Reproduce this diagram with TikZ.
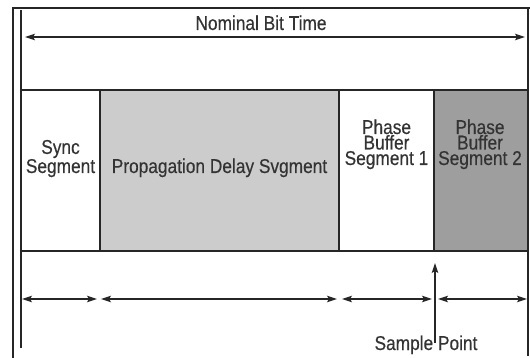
\documentclass[tikz,border=0pt]{standalone}
\usepackage{fontspec}
\setmainfont{Liberation Sans}[FakeStretch=0.865,FakeBold=0.35]
\usetikzlibrary{arrows.meta,calc}
\begin{document}
\begin{tikzpicture}[x=1pt,y=-1pt,
  frame/.style={line width=1.3pt, draw=black!85},
  seg/.style={draw=black!85, line width=2.4pt, inner sep=0pt, outer sep=0pt,
    anchor=north west, minimum height=161pt},
  lbl/.style={font=\fontsize{20}{15.5}\selectfont, text=black!80, align=center, inner sep=0pt},
  dim/.style={line width=1.1pt, draw=black!85, {Stealth[length=10pt,width=6.5pt,inset=2pt]}-{Stealth[length=10pt,width=6.5pt,inset=2pt]}},
]
\useasboundingbox (0,0) rectangle (530,358);
\fill[white] (0,0) rectangle (530,358);

% outer frame
\draw[frame] (13,358) -- (13,8) -- (530,8);
\draw[frame] (528,8) -- (528,356);
\draw[frame] (21,10) -- (21,348);

% the four segments of the bit
\node[seg, fill=white, minimum width=79pt] (sync) at (21,90) {};
\node[seg, fill=black!20, minimum width=239pt] (prop) at (sync.north east) {};
\node[seg, fill=white, minimum width=95pt] (pb1) at (prop.north east) {};
\node[seg, fill=black!38, minimum width=94pt] (pb2) at (pb1.north east) {};

% segment labels (base = baseline of the last line)
\node[lbl, anchor=base] (tsync) at ($(sync.north)+(0,83)$) {Sync\\Segment};
\node[lbl, anchor=base] (tprop) at ($(prop.north)+(0,83)$) {Propagation Delay Svgment};
\node[lbl, anchor=base] (tpb1) at ($(pb1.north)+(0,75)$) {Phase\\Buffer\\Segment 1};
\node[lbl, anchor=base] (tpb2) at ($(pb2.north)+(-1,75)$) {Phase\\Buffer\\Segment 2};

% nominal bit time
\node[lbl, anchor=base] (title) at (261,30) {Nominal Bit Time};
\draw[dim] ($(sync.north west)+(4,-53)$) -- ($(pb2.north east)+(-3,-53)$);

% segment lengths
\draw[dim] ($(sync.south west)+(1,48)$) -- ($(sync.south east)+(-3,48)$);
\draw[dim] ($(prop.south west)+(1,48)$) -- ($(prop.south east)+(-2,48)$);
\draw[dim] ($(pb1.south west)+(3,48)$) -- ($(pb1.south east)+(-2,48)$);
\draw[dim] ($(pb2.south west)+(4,48)$) -- ($(pb2.south east)+(-1,48)$);

% sample point
\node[lbl, anchor=base] (sp) at (426,350) {Sample Point};
\coordinate (spfoot) at ($(pb2.south west)+(1,92)$);
\draw[line width=1.1pt, draw=black!85, -{Stealth[length=10pt,width=6.5pt,inset=2pt]}]
  (spfoot) -- ($(pb2.south west)+(1,12)$);
\end{tikzpicture}
\end{document}
